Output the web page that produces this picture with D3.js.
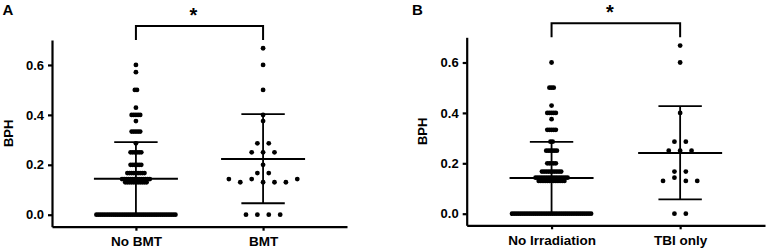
<!DOCTYPE html>
<html>
<head>
<meta charset="utf-8">
<script src="https://cdn.jsdelivr.net/npm/d3@7"></script>
<style>
  body { margin: 0; background: #fff; }
  svg { display: block; font-family: "Liberation Sans", Arial, sans-serif; }
</style>
</head>
<body>
<svg id="chart" width="768" height="252"></svg>
<script>
// BPH scatter dot plots, two panels. Each group is stored as runs of
// [BPH value, number of animals], in the order the dots sit in their row.

const catsA = ["No BMT", "BMT"];
const catsB = ["No Irradiation", "TBI only"];
const yTicks = [0, 0.2, 0.4, 0.6];

const noBmt = [
  [0.6, 1], [0.571, 1], [0.5, 2], [0.429, 1], [0.4, 5], [0.375, 1],
  [0.333, 5], [0.286, 1], [0.25, 6], [0.2, 6], [0.167, 9],
  [0.143, 14], [0.13, 11], [0, 38]
];
const bmt = [
  [0.667, 1], [0.6, 1], [0.5, 1], [0.4, 1], [0.375, 1], [0.286, 2],
  [0.25, 3], [0.2, 1], [0.167, 2],
  [0.143, 1], [0.13, 1], [0.143, 1], [0.13, 3], [0.143, 1], [0, 4]
];
const noIrr = [
  [0.6, 1], [0.5, 3], [0.429, 1], [0.4, 5], [0.375, 1], [0.333, 5],
  [0.286, 2], [0.25, 6], [0.2, 5], [0.167, 10],
  [0.143, 16], [0.13, 13], [0, 38]
];
const tbiOnly = [
  [0.667, 1], [0.6, 1], [0.4, 1], [0.286, 2], [0.25, 3], [0.167, 2],
  [0.13, 1], [0.143, 1], [0.13, 2], [0, 2]
];

// mean and mean ± SD
const meanA = [0.144, 0.223];
const sdLowA = [-0.003, 0.046];
const sdHighA = [0.291, 0.403];
const meanB = [0.142, 0.241];
const sdLowB = [-0.001, 0.057];
const sdHighB = [0.285, 0.427];

const panels = [
  { letter: "A", cats: catsA, groups: [noBmt, bmt], mean: meanA, lo: sdLowA, hi: sdHighA,
    left: 52, right: 347, top: 40, bottom: 226.7, yMin: -0.048, letterX: 2.5, labelX: 12.5 },
  { letter: "B", cats: catsB, groups: [noIrr, tbiOnly], mean: meanB, lo: sdLowB, hi: sdHighB,
    left: 466.7, right: 765, top: 37.3, bottom: 225.3, yMin: -0.046, letterX: 412, labelX: 427 }
];

const svg = d3.select("#chart");
const r = 2.4;
const maxSpread = 79;   // widest a row of dots may get
const maxStep = 11.4;   // dot spacing when there is room

function layoutColumn(runs, y, cx) {
  const pts = runs.flatMap(([v, n]) => d3.range(n).map(() => v));
  const counts = d3.rollup(pts, v => v.length, d => d);
  const maxN = d3.max(counts.values());
  const step = maxN > 1 ? Math.min(maxStep, maxSpread / (maxN - 1)) : maxStep;

  // values closer than a dot share a row, but only when dots don't overlap anyway
  const values = Array.from(counts.keys()).sort((a, b) => b - a);
  const rowOf = new Map();
  let rowFirst = null, rowIdx = -1;
  values.forEach(v => {
    if (rowFirst === null || step < 2 * r || y(v) - y(rowFirst) >= 2 * r) {
      rowIdx++;
      rowFirst = v;
    }
    rowOf.set(v, rowIdx);
  });
  const rows = d3.range(rowIdx + 1).map(() => []);
  pts.forEach(v => rows[rowOf.get(v)].push(v));

  const out = [];
  rows.forEach(row => {
    row.forEach((v, i) => out.push({ x: cx + (i - (row.length - 1) / 2) * step, y: y(v) }));
  });
  return out;
}

panels.forEach(p => {
  const x = d3.scalePoint().domain(p.cats).range([p.left, p.right]).padding(0.66);
  const y = d3.scaleLinear().domain([p.yMin, 0.7]).range([p.bottom, p.top]);
  const g = svg.append("g");

  // axes
  g.append("g")
    .attr("transform", `translate(${p.left},0)`)
    .call(d3.axisLeft(y).tickValues(yTicks).tickFormat(d3.format(".1f")).tickSize(4).tickSizeOuter(0).tickPadding(4))
    .call(a => {
      a.selectAll(".domain, .tick line").attr("stroke", "#000").attr("stroke-width", 2.2);
      a.selectAll("text").attr("fill", "#000").attr("font-size", 13).attr("font-weight", "bold")
        .attr("font-family", "'Liberation Sans', Arial, sans-serif");
    });

  g.append("g")
    .attr("transform", `translate(0,${p.bottom})`)
    .call(d3.axisBottom(x).tickSize(4).tickSizeOuter(0).tickPadding(6))
    .call(a => {
      a.selectAll(".domain, .tick line").attr("stroke", "#000").attr("stroke-width", 2.2);
      a.selectAll("text").attr("fill", "#000").attr("font-size", 13.5).attr("font-weight", "bold")
        .attr("font-family", "'Liberation Sans', Arial, sans-serif");
    });

  g.append("text")
    .attr("transform", `translate(${p.labelX},${(p.top + p.bottom) / 2}) rotate(-90)`)
    .attr("text-anchor", "middle")
    .attr("font-size", 13)
    .attr("font-weight", "bold")
    .text("BPH");

  g.append("text")
    .attr("x", p.letterX)
    .attr("y", 15)
    .attr("font-size", 15)
    .attr("font-weight", "bold")
    .text(p.letter);

  // dots
  p.groups.forEach((runs, i) => {
    g.append("g").selectAll("circle")
      .data(layoutColumn(runs, y, x(p.cats[i])))
      .join("circle")
      .attr("cx", d => d.x)
      .attr("cy", d => d.y)
      .attr("r", r)
      .attr("fill", "#000");
  });

  // mean and SD bars
  p.cats.forEach((c, i) => {
    const cx = x(c);
    const bars = g.append("g").attr("stroke", "#000").attr("fill", "none");
    bars.append("line").attr("x1", cx).attr("x2", cx)
      .attr("y1", y(p.lo[i])).attr("y2", y(p.hi[i])).attr("stroke-width", 1.8);
    bars.append("line").attr("x1", cx - 42).attr("x2", cx + 42)
      .attr("y1", y(p.mean[i])).attr("y2", y(p.mean[i])).attr("stroke-width", 2);
    [p.lo[i], p.hi[i]].forEach(v => {
      bars.append("line").attr("x1", cx - 21.7).attr("x2", cx + 21.7)
        .attr("y1", y(v)).attr("y2", y(v)).attr("stroke-width", 1.8);
    });
  });

  // significance bracket
  const x0 = x(p.cats[0]), x1 = x(p.cats[1]);
  const by = p.top - 14;
  g.append("path")
    .attr("d", `M${x0},${p.top}V${by}H${x1}V${p.top}`)
    .attr("fill", "none")
    .attr("stroke", "#000")
    .attr("stroke-width", 2);

  g.append("text")
    .attr("x", (x0 + x1) / 2 - 6)
    .attr("y", by - 4)
    .attr("text-anchor", "middle")
    .attr("font-size", 20)
    .attr("font-weight", "bold")
    .text("*");
});
</script>
</body>
</html>
